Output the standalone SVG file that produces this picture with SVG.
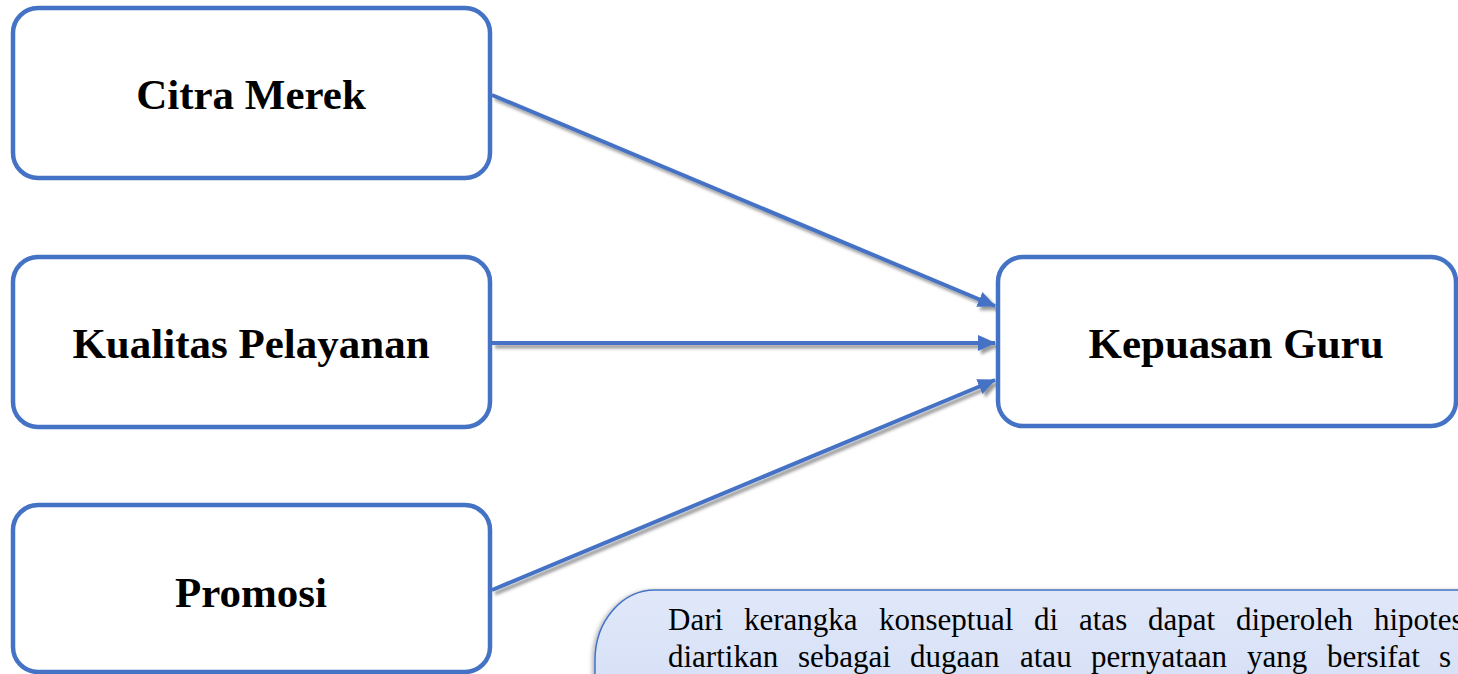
<svg xmlns="http://www.w3.org/2000/svg" width="1458" height="674" viewBox="0 0 1458 674">
  <style>
    .box { fill: #ffffff; stroke: #4472C4; stroke-width: 4.5; }
    .lbl { font-weight: bold; font-size: 43px; fill: #000; text-anchor: middle; }
    .edge { stroke: #4472C4; stroke-width: 4; fill: none; marker-end: url(#arrow); }
    .body { font-size: 31px; fill: #000; }
  </style>
  <defs>
    <marker id="arrow" markerUnits="userSpaceOnUse" markerWidth="18" markerHeight="16" refX="17" refY="8" orient="auto">
      <path d="M0,0 L18,8 L0,16 Z" fill="#4472C4"/>
    </marker>
    <filter id="shadow" x="-5%" y="-20%" width="110%" height="140%">
      <feDropShadow dx="3" dy="3.5" stdDeviation="1.5" flood-color="#000" flood-opacity="0.4"/>
    </filter>
    <filter id="boxshadow" x="-5%" y="-20%" width="110%" height="140%">
      <feDropShadow dx="-2" dy="1" stdDeviation="2" flood-color="#000" flood-opacity="0.3"/>
    </filter>
    <linearGradient id="textfill" x1="0" y1="0" x2="0" y2="1">
      <stop offset="0" stop-color="#e0e8f9"/>
      <stop offset="1" stop-color="#d5dff6"/>
    </linearGradient>
  </defs>

  <g id="connectors" filter="url(#shadow)">
    <line class="edge" x1="492" y1="95" x2="995" y2="306"/>
    <line class="edge" x1="492" y1="343" x2="995" y2="343"/>
    <line class="edge" x1="492" y1="590" x2="995" y2="380"/>
  </g>

  <g font-family="Liberation Serif, Times New Roman, Tinos, Times, serif">
  <g id="node-citra-merek">
    <rect class="box" x="13" y="8" width="477" height="170" rx="25" ry="25"/>
    <text class="lbl" x="251" y="109">Citra Merek</text>
  </g>
  <g id="node-kualitas-pelayanan">
    <rect class="box" x="13" y="257" width="477" height="170" rx="25" ry="25"/>
    <text class="lbl" x="251" y="358">Kualitas Pelayanan</text>
  </g>
  <g id="node-promosi">
    <rect class="box" x="13" y="505" width="477" height="167" rx="25" ry="25"/>
    <text class="lbl" x="251" y="607">Promosi</text>
  </g>
  <g id="node-kepuasan-guru">
    <rect class="box" x="998" y="257" width="458" height="169" rx="25" ry="25"/>
    <text class="lbl" x="1236" y="358">Kepuasan Guru</text>
  </g>

  <g id="text-box">
    <path d="M595,700 L595,660 A60,70 0 0 1 655,590 L1480,590 L1480,700 Z" fill="url(#textfill)" stroke="#4472C4" stroke-width="1.5" filter="url(#boxshadow)"/>
    <g class="body">
      <text x="668" y="630">Dari</text>
      <text x="744" y="630">kerangka</text>
      <text x="879" y="630">konseptual</text>
      <text x="1034" y="630">di</text>
      <text x="1079" y="630">atas</text>
      <text x="1148" y="630">dapat</text>
      <text x="1236" y="630">diperoleh</text>
      <text x="1374" y="630">hipotes</text>
      <text x="668" y="667">diartikan</text>
      <text x="798" y="667">sebagai</text>
      <text x="910" y="667">dugaan</text>
      <text x="1020" y="667">atau</text>
      <text x="1091" y="667">pernyataan</text>
      <text x="1247" y="667">yang</text>
      <text x="1327" y="667">bersifat</text>
      <text x="1439" y="667">s</text>
    </g>
  </g>
  </g>
</svg>
